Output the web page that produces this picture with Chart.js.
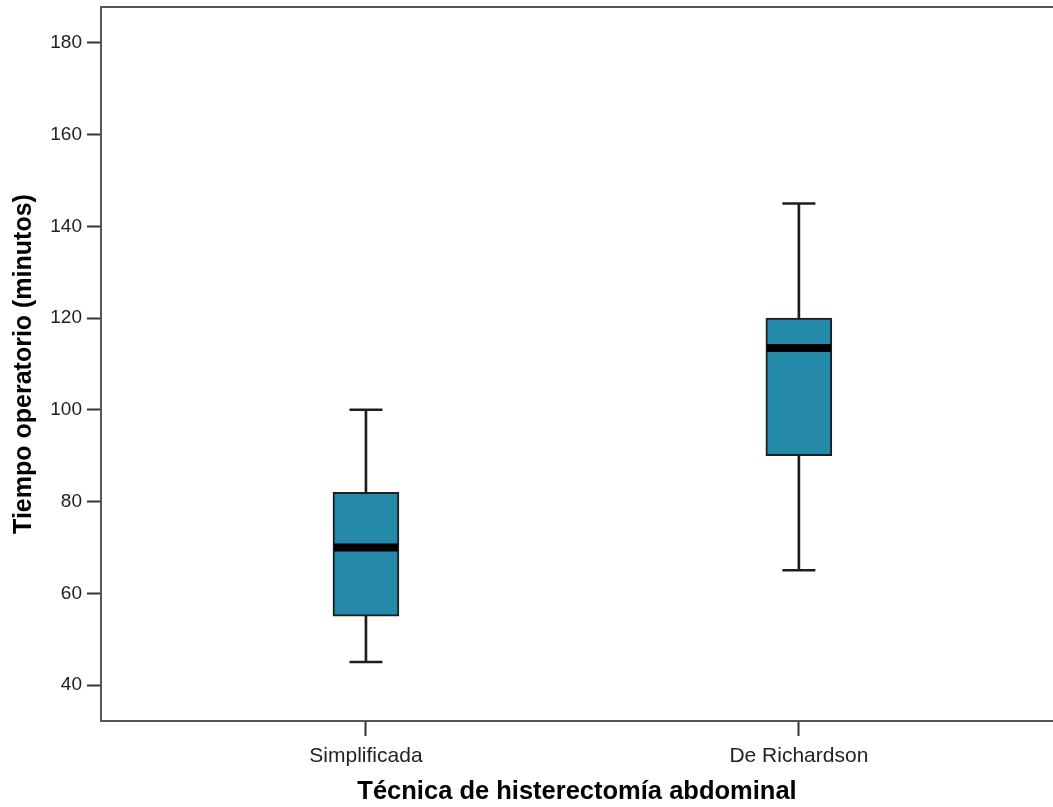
<!DOCTYPE html>
<html>
<head>
<meta charset="utf-8">
<script src="https://cdn.jsdelivr.net/npm/chart.js@4"></script>
<style>
  html, body { margin: 0; padding: 0; background: #fff; overflow: hidden; }
  #wrap { width: 1053px; height: 807px; }
</style>
</head>
<body>
<div id="wrap"><canvas id="box"></canvas></div>
<script>
// Box plot data (minutes)
var categories = ['Simplificada', 'De Richardson'];
var whiskerLow = [45, 65];
var q1 = [55, 90];
var median = [70, 113.5];
var q3 = [82, 120];
var whiskerHigh = [100, 145];
var yTicks = [40, 60, 80, 100, 120, 140, 160, 180];

var FONT = "'Liberation Sans', Arial, sans-serif";
var BOX_COLOR = '#2589AA';
var INK = '#1e1e1e';

function pts(values) {
    return values.map(function (v, i) { return { x: i + 1, y: v }; });
}
function ranges(lo, hi) {
    return lo.map(function (v, i) { return { x: i + 1, y: [v, hi[i]] }; });
}

// top frame line (the reference has no right border)
var frameTop = {
    id: 'frameTop',
    afterDraw: function (chart) {
        var a = chart.chartArea, ctx = chart.ctx;
        ctx.save();
        ctx.strokeStyle = '#555';
        ctx.lineWidth = 2;
        ctx.beginPath();
        ctx.moveTo(a.left - 1, a.top);
        ctx.lineTo(a.right, a.top);
        ctx.stroke();
        ctx.restore();
    }
};

new Chart(document.getElementById('box'), {
    type: 'bar',
    data: {
        datasets: [{
            // whisker stems
            type: 'bar',
            data: ranges(whiskerLow, whiskerHigh),
            backgroundColor: INK,
            barThickness: 2,
            grouped: false,
            order: 3
        }, {
            // boxes
            type: 'bar',
            data: ranges(q1, q3),
            backgroundColor: BOX_COLOR,
            borderColor: INK,
            borderWidth: 2,
            borderSkipped: false,
            barThickness: 66,
            grouped: false,
            order: 2
        }, {
            // whisker caps
            type: 'scatter',
            data: pts(whiskerLow).concat(pts(whiskerHigh)),
            pointStyle: 'line',
            pointRadius: 16.5,
            borderColor: INK,
            borderWidth: 2.5,
            order: 1
        }, {
            // medians
            type: 'scatter',
            data: pts(median),
            pointStyle: 'line',
            pointRadius: 32,
            borderColor: '#000',
            borderWidth: 8,
            order: 0
        }]
    },
    plugins: [frameTop],
    options: {
        responsive: true,
        maintainAspectRatio: false,
        animation: false,
        layout: { autoPadding: false, padding: { top: 7, right: 0, left: 0, bottom: 0 } },
        plugins: {
            legend: { display: false },
            tooltip: { enabled: false }
        },
        scales: {
            x: {
                type: 'linear',
                offset: false,
                min: 0.388,
                max: 2.587,
                afterBuildTicks: function (s) {
                    s.ticks = categories.map(function (c, i) { return { value: i + 1 }; });
                },
                afterFit: function (s) {
                    s.height = 86;
                    s.paddingLeft = 0;
                    s.paddingRight = 0;
                },
                ticks: {
                    callback: function (v) { return categories[v - 1]; },
                    color: '#222',
                    font: { family: FONT, size: 21 },
                    padding: 8,
                    maxRotation: 0
                },
                grid: {
                    offset: false,
                    drawOnChartArea: false,
                    tickLength: 15,
                    tickWidth: 2,
                    tickColor: '#333'
                },
                border: { color: '#555', width: 2 },
                title: {
                    display: true,
                    text: 'Técnica de histerectomía abdominal',
                    color: '#000',
                    font: { family: FONT, size: 25.5, weight: 'bold' },
                    padding: { top: 0, bottom: 0 }
                }
            },
            y: {
                min: 32.15,
                max: 187.85,
                afterBuildTicks: function (s) {
                    s.ticks = yTicks.map(function (v) { return { value: v }; });
                },
                afterFit: function (s) {
                    s.width = 101;
                    s.paddingTop = 0;
                    s.paddingBottom = 0;
                },
                ticks: {
                    color: '#222',
                    font: { family: FONT, size: 19 },
                    padding: 5
                },
                grid: {
                    drawOnChartArea: false,
                    tickLength: 14,
                    tickWidth: 2,
                    tickColor: '#333'
                },
                border: { color: '#555', width: 2 },
                title: {
                    display: true,
                    text: 'Tiempo operatorio (minutos)',
                    color: '#000',
                    font: { family: FONT, size: 25, weight: 'bold' },
                    padding: { top: 9, bottom: 0 }
                }
            }
        }
    }
});
</script>
</body>
</html>
